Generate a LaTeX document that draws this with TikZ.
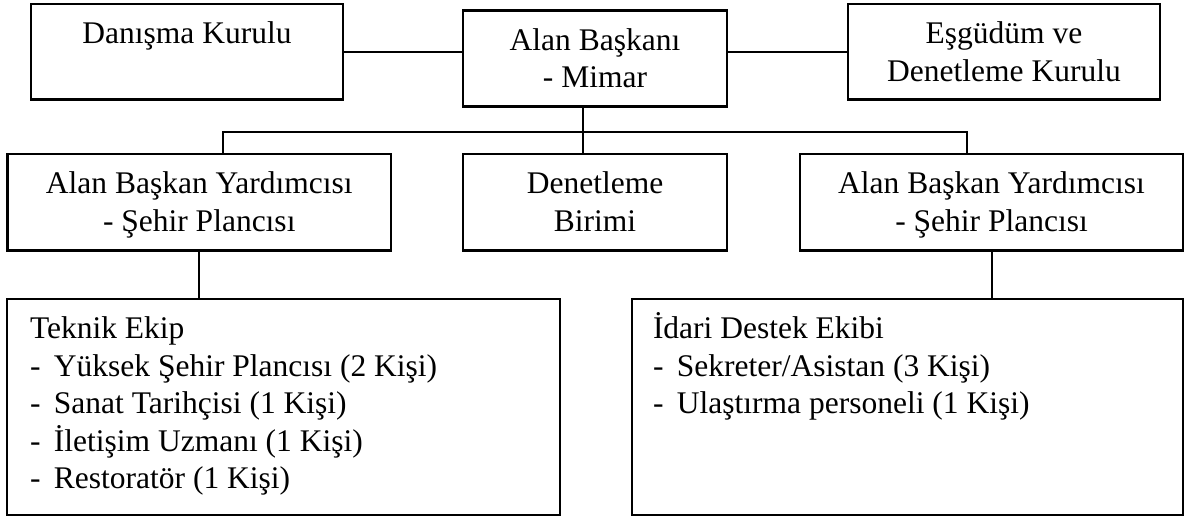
\documentclass[tikz,border=0pt]{standalone}
\usepackage{fontspec}
\setmainfont{Liberation Serif}
\usetikzlibrary{calc}

% box contents: fixed width/height, text hung from the top edge
\newcommand{\boxtext}[4]{\parbox[c][#2pt][t]{#1pt}{#3\rule{0pt}{39.5pt}#4}}
\newcommand{\itm}{\makebox[24pt][l]{-}}

\begin{document}
\begin{tikzpicture}[x=1pt,y=-1pt,
  box/.style={draw, line width=2.5pt, inner sep=0pt, outer sep=0pt, anchor=north west,
              font=\fontsize{31.5}{37.6}\selectfont},
  wire/.style={line width=2pt}]
  \useasboundingbox (0,0) rectangle (1188,519);

  % top row
  \node[box] (D) at (31,4)     {\boxtext{312}{95.5}{\centering}{Danışma Kurulu}};
  \node[box] (A) at (463,10.7) {\boxtext{264}{96}{\centering}{Alan Başkanı\\- Mimar}};
  \node[box] (E) at (848,4)    {\boxtext{312}{95.5}{\centering}{Eşgüdüm ve\\Denetleme Kurulu}};

  % second row
  \node[box] (L) at (7.5,154)  {\boxtext{383.5}{96.5}{\centering}{Alan Başkan Yardımcısı\\- Şehir Plancısı}};
  \node[box] (B) at (463,154)  {\boxtext{264}{96.5}{\centering}{Denetleme\\Birimi}};
  \node[box] (R) at (800,154)  {\boxtext{383}{96.5}{\centering}{Alan Başkan Yardımcısı\\- Şehir Plancısı}};

  % team boxes
  \node[box] (T) at (7,299)    {\boxtext{553}{216}{\raggedright\leftskip=23pt}{Teknik Ekip\\
      \itm Yüksek Şehir Plancısı (2 Kişi)\\
      \itm Sanat Tarihçisi (1 Kişi)\\
      \itm İletişim Uzmanı (1 Kişi)\\
      \itm Restoratör (1 Kişi)}};
  \node[box] (I) at (632,299)  {\boxtext{551}{216}{\raggedright\leftskip=21pt}{İdari Destek Ekibi\\
      \itm Sekreter/Asistan (3 Kişi)\\
      \itm Ulaştırma personeli (1 Kişi)}};

  % connectors
  \coordinate (busL) at (223,131.7);
  \coordinate (busR) at (967,131.7);
  \coordinate (stem) at (583,131.7);

  \draw[wire] (D.east) -- (D.east -| A.west);
  \draw[wire] (E.west) -- (E.west -| A.east);
  \draw[wire] (stem |- A.south) -- (stem |- B.north);
  \draw[wire] (busL |- L.north) -- (busL) -- (busR) -- (busR |- R.north);
  \draw[wire] (L.south) -- (L.south |- T.north);
  \draw[wire] (R.south) -- (R.south |- I.north);
\end{tikzpicture}
\end{document}
